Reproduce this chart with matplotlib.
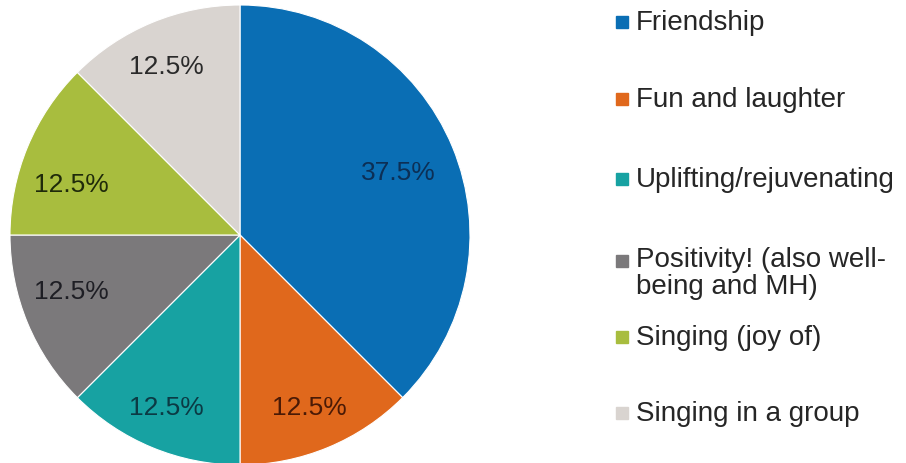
import matplotlib.pyplot as plt
from matplotlib.patches import Rectangle

plt.rcParams['font.family'] = ['Liberation Sans', 'DejaVu Sans']

# Survey answers: share of responses
labels = ['Friendship', 'Fun and laughter', 'Uplifting/rejuvenating',
          'Positivity! (also well-\nbeing and MH)', 'Singing (joy of)',
          'Singing in a group']
shares = [37.5, 12.5, 12.5, 12.5, 12.5, 12.5]
colors = ['#0a6eb4', '#e0681c', '#17a2a2', '#7b797b', '#a8bd3e', '#d9d4d0']
text_colors = ['#0c2f55', '#4a1a06', '#0b3a44', '#1e1e24', '#1f2a0a', '#2a2a2a']

# label placement inside each wedge (axes data units, radius = 1)
label_pos = [(0.69, 0.275), (0.30, -0.75), (-0.32, -0.75),
             (-0.735, -0.245), (-0.735, 0.22), (-0.32, 0.735)]

W, H = 906, 464
fig = plt.figure(figsize=(W / 100, H / 100), dpi=100)

# pie area: centre (240, 236) px, radius 230 px
cx, cy, r = 240, 236, 230
ax = fig.add_axes([(cx - r) / W, (H - cy - r) / H, 2 * r / W, 2 * r / H])
wedges, texts, autotexts = ax.pie(
    shares, colors=colors, startangle=90, counterclock=False,
    autopct='%1.1f%%', pctdistance=0.78,
    wedgeprops=dict(edgecolor='white', linewidth=0.8),
    textprops=dict(fontsize=19))
for t, c, p in zip(autotexts, text_colors, label_pos):
    t.set_color(c)
    t.set_position(p)
ax.set_xlim(-1.0, 1.0)
ax.set_ylim(-1.0, 1.0)
ax.axis('off')

# legend drawn by hand to match the uneven row spacing
row_y = [23, 100, 180, 262, 338, 414]
for lab, col, y in zip(labels, colors, row_y):
    fig.patches.append(Rectangle((616 / W, (H - y - 6) / H), 12 / W, 12 / H,
                                 transform=fig.transFigure, color=col))
    if '\n' in lab:
        fig.text(636 / W, (H - y + 15) / H, lab, fontsize=20, color='#262626',
                 va='top', ha='left', linespacing=1.05)
    else:
        fig.text(636 / W, (H - y) / H, lab, fontsize=20, color='#262626',
                 va='center', ha='left')

fig.savefig('out.png', dpi=100)
